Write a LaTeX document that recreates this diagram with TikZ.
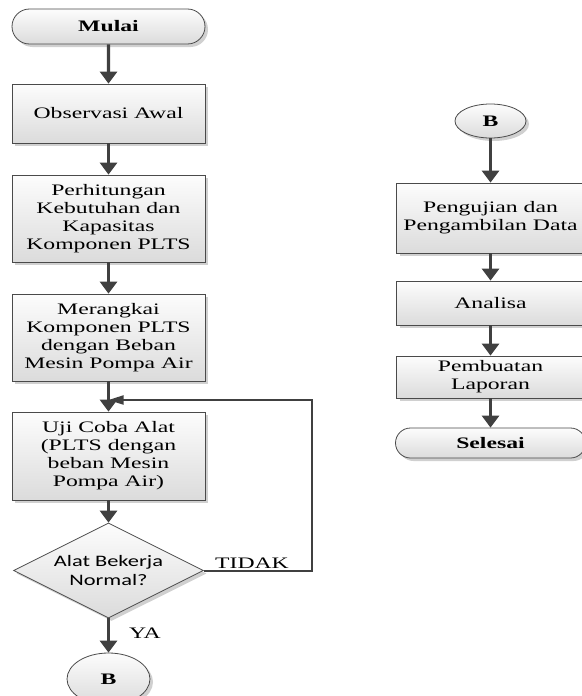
\documentclass[tikz,border=0pt]{standalone}
\usepackage{fontspec}
\setmainfont[FakeStretch=1.48]{Liberation Serif}
\newfontfamily\sansf[FakeStretch=1.4]{Carlito}
\usetikzlibrary{arrows.meta,shapes.geometric,shapes.misc,shadows,calc}
\definecolor{linec}{HTML}{404040}
\definecolor{borderc}{HTML}{4A4A4A}
\definecolor{shadowc}{HTML}{D0D0D0}
\begin{document}
\begin{tikzpicture}[x=1pt,y=-1pt,
  base/.style={draw=borderc, line width=0.8pt, top color=white!99!black, bottom color=white!86!black,
    drop shadow={shadow xshift=3pt, shadow yshift=-3pt, fill=shadowc, opacity=1},
    font=\fontsize{16}{18}\selectfont, align=center, inner sep=0pt},
  proc/.style={base, rectangle, minimum width=193pt},
  proctwo/.style={base, rectangle, minimum width=188pt},
  term/.style={base, rounded rectangle},
  conn/.style={base, ellipse},
  dec/.style={base, diamond, shape aspect=2, minimum width=190pt, minimum height=95pt, font=\sansf\fontsize{16}{19}\selectfont},
  arr/.style={draw=linec, line width=3.2pt, -{Triangle[width=17pt,length=12pt]}},
  loopl/.style={draw=linec, line width=2pt, -{Triangle[width=9pt,length=15pt]}},
  lab/.style={font=\fontsize{16}{18}\selectfont, inner sep=0pt}
]
\useasboundingbox (0,0) rectangle (581,696);

% left column
\node[term, minimum width=193pt, minimum height=35pt] (mulai) at (108.5,26.5) {\textbf{Mulai}};
\node[proc, minimum height=59pt] (obs) at (108.5,113.5) {Observasi Awal};
\node[proc, minimum height=87pt] (hit) at (108.5,218.5) {Perhitungan\\Kebutuhan dan\\Kapasitas\\Komponen PLTS};
\node[proc, minimum height=87pt] (rangkai) at (108.5,337.5) {Merangkai\\Komponen PLTS\\dengan Beban\\Mesin Pompa Air};
\node[proc, minimum height=88pt] (uji) at (108.5,456) {Uji Coba Alat\\(PLTS dengan\\beban Mesin\\Pompa Air)};
\node[dec] (dec) at (108.5,570.5) {Alat Bekerja\\Normal?};
\node[conn, minimum width=83pt, minimum height=52pt] (bone) at (108.5,679) {\textbf{B}};

% right column
\node[conn, minimum width=71pt, minimum height=34pt] (btwo) at (490.5,121) {\textbf{B}};
\node[proctwo, minimum height=70pt] (peng) at (490.5,218) {Pengujian dan\\Pengambilan Data};
\node[proctwo, minimum height=44pt] (ana) at (490.5,303) {Analisa};
\node[proctwo, minimum height=42pt] (lap) at (490.5,377) {Pembuatan\\Laporan};
\node[term, minimum width=190pt, minimum height=30pt] (sel) at (490.5,443) {\textbf{Selesai}};

% arrows
\draw[arr] (mulai) -- (obs);
\draw[arr] (obs) -- (hit);
\draw[arr] (hit) -- (rangkai);
\draw[arr] (rangkai) -- (uji);
\draw[arr] (uji) -- (dec);
\draw[arr] (dec) -- (bone);
\draw[arr] (btwo) -- (peng);
\draw[arr] (peng) -- (ana);
\draw[arr] (ana) -- (lap);
\draw[arr] (lap) -- (sel);

% loop back
\coordinate (lc) at (312,400);
\coordinate (le) at (108.5,400);
\draw[loopl] (dec.east) -| (lc) -- (le);

\node[lab] (tidak) at (252,563) {TIDAK};
\node[lab] (ya) at (145,633) {YA};
\end{tikzpicture}
\end{document}
